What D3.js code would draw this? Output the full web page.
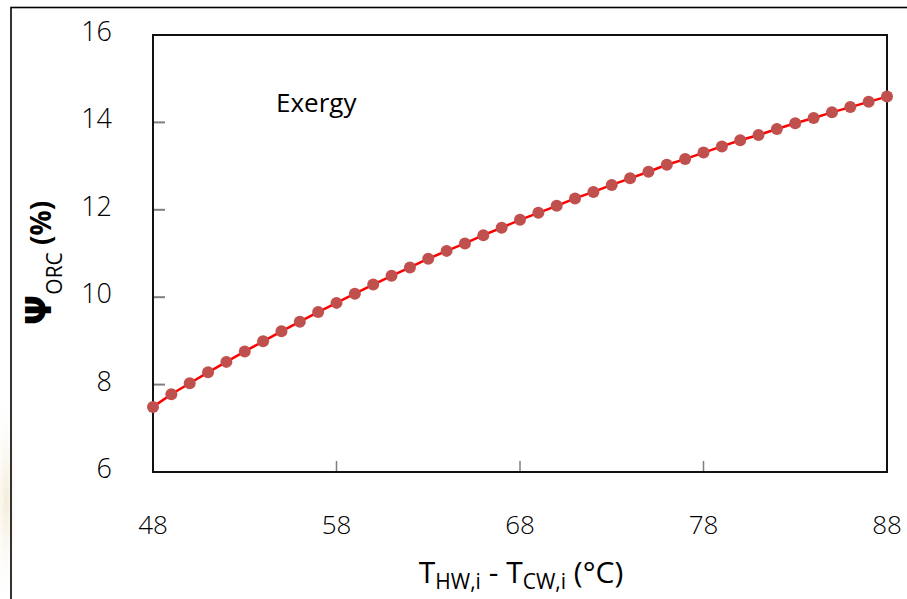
<!DOCTYPE html>
<html>
<head>
<meta charset="utf-8">
<script src="https://cdn.jsdelivr.net/npm/d3@7"></script>
<style>
  body { margin: 0; background: #fff; }
  svg { display: block; }
</style>
</head>
<body>
<svg id="chart" width="907" height="599"></svg>
<script>
// temperature difference (°C) and exergy efficiency (%)
const tempDiff = [48, 49, 50, 51, 52, 53, 54, 55, 56, 57, 58, 59, 60, 61, 62, 63, 64, 65, 66, 67, 68,
  69, 70, 71, 72, 73, 74, 75, 76, 77, 78, 79, 80, 81, 82, 83, 84, 85, 86, 87, 88];
const exergy = [7.49, 7.78, 8.03, 8.28, 8.52, 8.76, 8.99, 9.22, 9.44, 9.66, 9.87, 10.08, 10.29, 10.49,
  10.68, 10.88, 11.06, 11.23, 11.42, 11.59, 11.77, 11.93, 12.09, 12.26, 12.41, 12.57, 12.72, 12.87,
  13.03, 13.16, 13.31, 13.45, 13.59, 13.71, 13.85, 13.98, 14.10, 14.23, 14.35, 14.47, 14.59];
const xTicks = [48, 58, 68, 78, 88];
const yTicks = [6, 8, 10, 12, 14, 16];

const svg = d3.select('#chart');
const plotL = 153, plotR = 887, plotT = 35, plotB = 472;

const x = d3.scaleLinear().domain([48, 88]).range([plotL, plotR]);
const y = d3.scaleLinear().domain([6, 16]).range([plotB, plotT]);

// faint beige glow at lower left
const defs = svg.append('defs');
const grad = defs.append('radialGradient').attr('id', 'glow');
grad.append('stop').attr('offset', '0%').attr('stop-color', '#f3e9d2').attr('stop-opacity', 0.9);
grad.append('stop').attr('offset', '100%').attr('stop-color', '#fff').attr('stop-opacity', 0);
svg.append('ellipse').attr('cx', 6).attr('cy', 500).attr('rx', 14).attr('ry', 110)
  .attr('fill', 'url(#glow)');

// outer frame
svg.append('rect').attr('x', 11).attr('y', 7.5).attr('width', 1000).attr('height', 700)
  .attr('fill', 'none').attr('stroke', '#000').attr('stroke-width', 1.6);

// plot box
svg.append('rect').attr('x', plotL).attr('y', plotT).attr('width', plotR - plotL).attr('height', plotB - plotT)
  .attr('fill', '#fff').attr('stroke', '#111').attr('stroke-width', 2);

// tick marks (inside)
svg.append('g').selectAll('line').data(yTicks.slice(1, -1)).join('line')
  .attr('x1', plotL + 1).attr('x2', plotL + 12)
  .attr('y1', d => y(d)).attr('y2', d => y(d))
  .attr('stroke', '#7f7f7f').attr('stroke-width', 2);
svg.append('g').selectAll('line').data(xTicks.slice(1, -1)).join('line')
  .attr('x1', d => x(d)).attr('x2', d => x(d))
  .attr('y1', plotB - 1).attr('y2', plotB - 11)
  .attr('stroke', '#7f7f7f').attr('stroke-width', 1.5);

const tickFont = '"Open Sans", "Noto Sans", sans-serif';

svg.append('g').selectAll('text').data(yTicks).join('text')
  .attr('x', 112).attr('y', d => y(d) + 6)
  .attr('text-anchor', 'end')
  .attr('font-family', tickFont).attr('font-size', 27).attr('font-weight', 300)
  .attr('fill', '#000')
  .text(d => d);

svg.append('g').selectAll('text').data(xTicks).join('text')
  .attr('x', d => x(d)).attr('y', 534)
  .attr('text-anchor', 'middle')
  .attr('font-family', tickFont).attr('font-size', 26).attr('font-weight', 300)
  .attr('fill', '#000')
  .text(d => d);

// series
const pts = tempDiff.map((t, i) => [t, exergy[i]]);
svg.append('path').datum(pts)
  .attr('d', d3.line().x(d => x(d[0])).y(d => y(d[1])))
  .attr('fill', 'none').attr('stroke', '#ff0000').attr('stroke-width', 2.5);
svg.append('g').selectAll('circle').data(pts).join('circle')
  .attr('cx', d => x(d[0])).attr('cy', d => y(d[1]))
  .attr('r', 6).attr('fill', '#c0504d');

// label in plot
svg.append('text').attr('x', 276).attr('y', 112)
  .attr('font-family', tickFont).attr('font-size', 26).attr('fill', '#000')
  .text('Exergy');

// x axis title
const xt = svg.append('text').attr('x', 521).attr('y', 583).attr('text-anchor', 'middle')
  .attr('font-family', tickFont).attr('font-size', 30).attr('fill', '#000');
xt.append('tspan').text('T');
xt.append('tspan').attr('font-size', 21).attr('dy', 6).text('HW,i');
xt.append('tspan').attr('dy', -6).text(' - T');
xt.append('tspan').attr('font-size', 21).attr('dy', 6).text('CW,i');
xt.append('tspan').attr('dy', -6).text(' (°C)');

// y axis title
const yt = svg.append('text').attr('transform', 'translate(51,263) rotate(-90)')
  .attr('text-anchor', 'middle')
  .attr('font-family', '"DejaVu Sans", sans-serif').attr('fill', '#000');
yt.append('tspan').attr('font-size', 36).attr('font-weight', 'bold').text('Ψ');
yt.append('tspan').attr('font-family', tickFont).attr('font-size', 21).attr('dy', 11).text('ORC');
yt.append('tspan').attr('font-family', tickFont).attr('font-size', 28).attr('font-weight', 'bold')
  .attr('dy', -11).text(' (%)');

console.log('chart drawn');
</script>
</body>
</html>
